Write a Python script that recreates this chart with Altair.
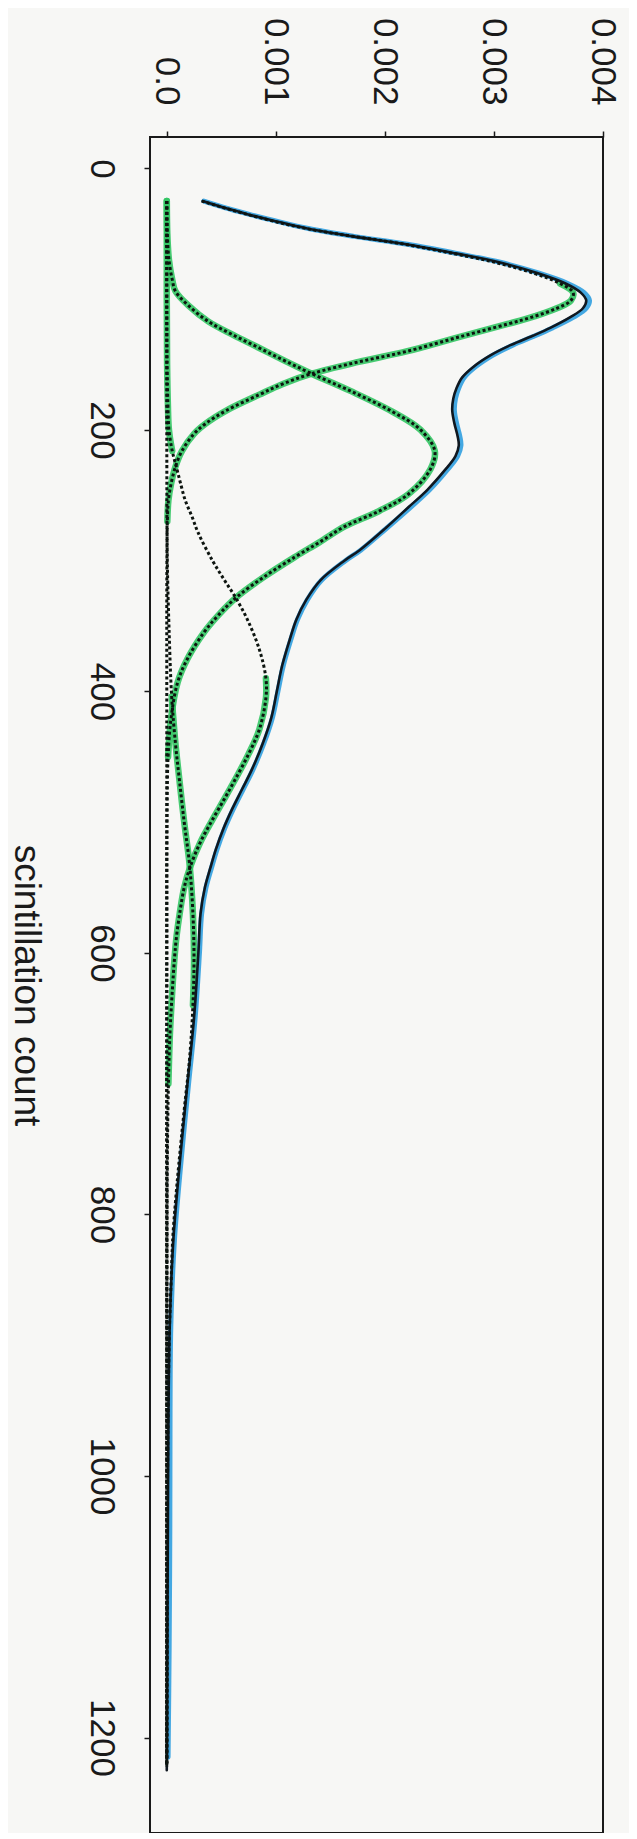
import altair as alt
import pandas as pd

# ---- data read from the (rotated) reference ----
# scintillation count runs down the page, density runs to the right
TOTAL_COUNT = [25, 30, 35, 40, 46, 52, 58, 65, 72, 80, 88, 95, 101, 107, 114, 122, 128, 135, 143, 152,
               160, 168, 176, 185, 195, 205, 212, 220, 231, 246, 259, 275, 292, 300, 315, 330, 345, 360, 380, 400,
               420, 440, 460, 475, 490, 505, 521, 535, 550, 570, 600, 650, 700, 760, 820, 886, 950, 1040, 1130, 1225]
TOTAL_DENSITY = [0.00033, 0.00052, 0.00074, 0.00098, 0.00129, 0.00171, 0.00220, 0.00265, 0.00306, 0.00340,
                 0.00366, 0.00380, 0.00385, 0.00382, 0.00370, 0.00352, 0.00336, 0.00316, 0.00297, 0.00281,
                 0.00271, 0.00266, 0.00263, 0.00262, 0.00264, 0.00267, 0.00268, 0.00265, 0.00255, 0.00239,
                 0.00222, 0.00201, 0.00177, 0.00163, 0.00141, 0.00128, 0.00119, 0.00113, 0.00106, 0.00101,
                 0.00096, 0.00088, 0.00078, 0.00069, 0.00060, 0.00052, 0.00045, 0.00040, 0.00035, 0.00031,
                 0.00029, 0.00025, 0.00019, 0.00012, 0.00006, 0.000027, 0.000016, 0.000010, 0.000005, 0.0]

BLUE_COUNT = [25, 30, 35, 40, 46, 52, 58, 65, 72, 80, 88, 95, 101, 107, 114, 122, 128, 135, 143, 152,
              160, 168, 176, 185, 195, 205, 212, 220, 231, 246, 259, 275, 292, 300, 315, 330, 345, 360, 380, 400,
              420, 440, 460, 475, 490, 505, 521, 535, 550, 570, 600, 650, 700, 760, 820, 886, 950, 1040, 1130, 1215]
BLUE_DENSITY = [0.00034, 0.00053, 0.00075, 0.00099, 0.00130, 0.00172, 0.00221, 0.00266, 0.00307, 0.00341,
                0.00368, 0.00383, 0.00388, 0.00385, 0.00373, 0.00354, 0.00338, 0.00318, 0.00299, 0.00283,
                0.00273, 0.00268, 0.00265, 0.00264, 0.00266, 0.00269, 0.00270, 0.00267, 0.00257, 0.00241,
                0.00224, 0.00202, 0.00178, 0.00164, 0.00142, 0.00129, 0.00120, 0.00114, 0.00107, 0.00102,
                0.00097, 0.00089, 0.00079, 0.00070, 0.00061, 0.00053, 0.00046, 0.00041, 0.00036, 0.00032,
                0.00030, 0.00026, 0.00020, 0.00013, 0.00007, 0.000037, 0.000030, 0.000028, 0.000022, 0.000012]

A_COUNT = [25, 35, 46, 58, 65, 72, 80, 88, 95, 101, 107, 113, 119, 129, 140, 148, 157, 165, 173, 185,
           195, 203, 216, 228, 241, 254, 270, 290, 330, 400, 600, 900, 1222]
A_DENSITY = [0.00032, 0.00073, 0.00128, 0.00218, 0.00262, 0.00302, 0.00336, 0.00361, 0.00373, 0.00371,
             0.00358, 0.00338, 0.00313, 0.00268, 0.00220, 0.00176, 0.00133, 0.00106, 0.00085, 0.00055,
             0.00036, 0.00025, 0.00014, 0.00008, 0.00004, 0.000015, 0.000005, 0.000002, 0.0, 0.0,
             0.0, 0.0, 0.0]

B_COUNT = [25, 50, 70, 85, 94, 105, 117, 127, 137, 147, 157, 170, 186, 200, 216, 230, 249, 262, 274, 286,
           297, 312, 328, 342, 355, 375, 393, 420, 450, 500, 600, 800, 1222]
B_DENSITY = [0.0, 0.000005, 0.00002, 0.00005, 0.00008, 0.00020, 0.00038, 0.00060, 0.00084, 0.00108,
             0.00133, 0.00168, 0.00207, 0.00233, 0.00246, 0.00242, 0.00222, 0.00195, 0.00163, 0.00140,
             0.00118, 0.00090, 0.00064, 0.00047, 0.00034, 0.00019, 0.00010, 0.00004, 0.000012, 0.000002,
             0.0, 0.0, 0.0]

C_COUNT = [25, 100, 150, 180, 200, 216, 229, 242, 254, 266, 279, 300, 315, 328, 345, 368, 390, 405, 429, 448,
           467, 482, 498, 515, 533, 550, 569, 587, 605, 630, 660, 700, 760, 850, 1000, 1222]
C_DENSITY = [0.0, 0.0, 0.000003, 0.00001, 0.00002, 0.00005, 0.00009, 0.00013, 0.00017, 0.00023,
             0.00029, 0.00042, 0.00053, 0.00063, 0.00074, 0.00085, 0.00091, 0.00091, 0.00085, 0.00075,
             0.00063, 0.00053, 0.00042, 0.00031, 0.00022, 0.00016, 0.00012, 0.00009, 0.00007, 0.00005,
             0.00003, 0.000015, 0.000005, 0.000001, 0.0, 0.0]

D_COUNT = [25, 200, 300, 350, 404, 440, 467, 500, 533, 570, 605, 640, 680, 720, 762, 790, 818, 850, 886, 950,
           1050, 1130, 1222]
D_DENSITY = [0.0, 0.0, 0.000005, 0.00002, 0.000045, 0.00008, 0.000115, 0.00016, 0.00021, 0.00024,
             0.00025, 0.00024, 0.00021, 0.00016, 0.00011, 0.00008, 0.000055, 0.00004, 0.000025, 0.000012,
             0.000004, 0.000002, 0.0]

# count ranges of each component that carry the green highlight
GREEN_RANGES = {"A": [(85, 280)], "B": [(25, 470)], "C": [(25, 225), (380, 700)], "D": [(380, 660)]}

DENSITY_TICKS = [0.0, 0.001, 0.002, 0.003, 0.004]
COUNT_TICKS = [0, 200, 400, 600, 800, 1000, 1200]
AXIS_TITLE = "scintillation count"

# ---- tables ----
total_df = pd.DataFrame({"count": TOTAL_COUNT, "density": TOTAL_DENSITY})
blue_df = pd.DataFrame({"count": BLUE_COUNT, "density": BLUE_DENSITY})
comps = {"A": (A_COUNT, A_DENSITY), "B": (B_COUNT, B_DENSITY),
         "C": (C_COUNT, C_DENSITY), "D": (D_COUNT, D_DENSITY)}
comp_df = pd.concat([pd.DataFrame({"count": c, "density": d, "comp": k}) for k, (c, d) in comps.items()],
                    ignore_index=True)
green_parts = []
for k, ranges in GREEN_RANGES.items():
    sub = comp_df[comp_df["comp"] == k]
    for i, (lo, hi) in enumerate(ranges):
        part = sub[(sub["count"] >= lo) & (sub["count"] <= hi)].copy()
        part["seg"] = f"{k}{i}"
        green_parts.append(part)
green_df = pd.concat(green_parts, ignore_index=True)

FONT = "Liberation Sans"

x_enc = alt.X(
    "density:Q",
    scale=alt.Scale(domain=[-0.000154, 0.004004], nice=False, zero=False),
    axis=alt.Axis(
        orient="top", values=DENSITY_TICKS,
        labelExpr="datum.value == 0 ? '0.0' : format(datum.value, '.3f')",
        labelAngle=90, labelAlign="right", labelBaseline="middle",
        labelFontSize=35, labelFont=FONT, labelColor="#1a1a1a", labelPadding=26,
        labelFlush=False, labelOverlap=False,
        tickSize=6, tickWidth=1.5, tickColor="#1a1a1a",
        domain=False, grid=False, title=None,
    ),
)
y_enc = alt.Y(
    "count:Q",
    scale=alt.Scale(domain=[-24, 1273], nice=False, zero=False, reverse=True),
    axis=alt.Axis(
        orient="left", values=COUNT_TICKS, format="d",
        labelAngle=90, labelAlign="center", labelBaseline="top",
        labelFontSize=35, labelFont=FONT, labelColor="#1a1a1a", labelPadding=26,
        labelFlush=False, labelOverlap=False,
        tickSize=6, tickWidth=1.5, tickColor="#1a1a1a",
        domain=False, grid=False,
        title=AXIS_TITLE, titleAngle=90, titleBaseline="top", titleAlign="center",
        titleX=-107, titleY=848, titleFontSize=37, titleFont=FONT,
        titleFontWeight="normal", titleColor="#1a1a1a",
    ),
)
order_enc = alt.Order("count:Q")

blue = alt.Chart(blue_df).mark_line(
    color="#3aa3e0", strokeWidth=5, interpolate="catmull-rom", strokeCap="round", opacity=0.95
).encode(x=x_enc, y=y_enc, order=order_enc)

green = alt.Chart(green_df).mark_line(
    color="#33c564", strokeWidth=6.5, interpolate="catmull-rom", strokeCap="round", opacity=0.9
).encode(x=x_enc, y=y_enc, detail="seg:N", order=order_enc)

black = alt.Chart(total_df).mark_line(
    color="#101820", strokeWidth=2.6, interpolate="catmull-rom", strokeCap="round"
).encode(x=x_enc, y=y_enc, order=order_enc)

dots = alt.Chart(comp_df).mark_line(
    color="#0d140f", strokeWidth=3, strokeDash=[3, 2.5], interpolate="catmull-rom"
).encode(x=x_enc, y=y_enc, detail="comp:N", order=order_enc)

chart = (
    alt.layer(blue, green, black, dots)
    .properties(
        width=453, height=1696,
        autosize=alt.AutoSizeParams(type="none"),
        padding={"left": 142, "top": 129, "right": 26, "bottom": 0},
        background="#f7f7f5",
    )
    .configure_view(stroke="#1a1a1a", strokeWidth=2)
)

chart.save("out.html", embed_options={"renderer": "svg", "actions": False})
